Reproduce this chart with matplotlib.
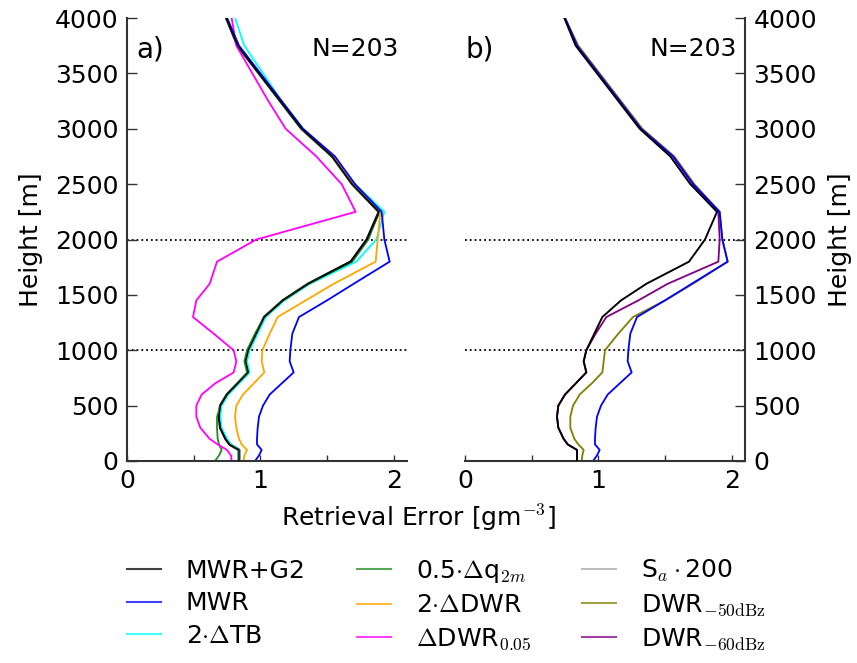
import matplotlib
matplotlib.use("Agg")
import matplotlib.pyplot as plt
from matplotlib.lines import Line2D
from matplotlib.ticker import FixedLocator

plt.rcParams['font.family'] = ['DejaVu Sans']
plt.rcParams['mathtext.fontset'] = 'cm'

heights = [0, 50, 100, 150, 200, 300, 400, 500, 600, 700, 800, 900, 1000, 1150,
           1300, 1450, 1600, 1800, 2000, 2250, 2500, 2750, 3000, 3250, 3500, 3750, 4000]

mwr_g2 = [0.84, 0.84, 0.84, 0.77, 0.74, 0.70, 0.69, 0.70, 0.75, 0.83, 0.91, 0.89, 0.91, 0.97,
          1.03, 1.17, 1.36, 1.68, 1.80, 1.89, 1.69, 1.54, 1.31, 1.15, 0.99, 0.83, 0.745]
mwr = [0.96, 0.99, 1.01, 0.975, 0.975, 0.98, 0.99, 1.02, 1.07, 1.16, 1.25, 1.22, 1.225, 1.24,
       1.29, 1.50, 1.70, 1.97, 1.93, 1.91, 1.71, 1.56, 1.32, 1.16, 1.00, 0.84, 0.75]
tb2 = [0.84, 0.84, 0.84, 0.78, 0.75, 0.71, 0.70, 0.71, 0.76, 0.84, 0.92, 0.90, 0.92, 0.98,
       1.04, 1.18, 1.37, 1.72, 1.87, 1.93, 1.71, 1.55, 1.32, 1.16, 1.02, 0.88, 0.81]
q2m = [0.66, 0.69, 0.71, 0.69, 0.68, 0.675, 0.675, 0.70, 0.75, 0.83, 0.90, 0.88, 0.90, 0.96,
       1.03, 1.17, 1.36, 1.69, 1.81, 1.89, 1.69, 1.54, 1.31, 1.15, 0.99, 0.83, 0.745]
dwr2 = [0.875, 0.88, 0.90, 0.86, 0.84, 0.82, 0.81, 0.82, 0.87, 0.95, 1.03, 1.01, 1.015, 1.07,
        1.13, 1.34, 1.55, 1.865, 1.88, 1.90, 1.70, 1.55, 1.315, 1.16, 1.00, 0.84, 0.75]
dwr005 = [0.785, 0.78, 0.75, 0.68, 0.62, 0.55, 0.52, 0.52, 0.56, 0.66, 0.80, 0.82, 0.80, 0.65,
          0.495, 0.52, 0.62, 0.675, 0.97, 1.715, 1.61, 1.42, 1.19, 1.06, 0.94, 0.82, 0.785]
sa200 = [0.84, 0.84, 0.84, 0.77, 0.74, 0.70, 0.69, 0.70, 0.75, 0.83, 0.91, 0.89, 0.91, 0.97,
         1.03, 1.17, 1.36, 1.68, 1.80, 1.89, 1.69, 1.54, 1.31, 1.15, 0.99, 0.83, 0.745]
dwr50 = [0.875, 0.88, 0.89, 0.85, 0.82, 0.79, 0.79, 0.81, 0.86, 0.95, 1.03, 1.04, 1.05, 1.15,
         1.26, 1.50, 1.71, 1.97, 1.93, 1.91, 1.72, 1.57, 1.33, 1.17, 1.01, 0.85, 0.75]
dwr60 = [0.84, 0.84, 0.84, 0.77, 0.74, 0.70, 0.69, 0.70, 0.75, 0.83, 0.91, 0.89, 0.91, 0.98,
         1.06, 1.30, 1.52, 1.90, 1.91, 1.90, 1.71, 1.56, 1.32, 1.16, 1.00, 0.84, 0.75]

labels = ['MWR+G2', 'MWR', '2$\\cdot\\Delta$TB',
          '0.5$\\cdot\\Delta$q$_{2m}$', '2$\\cdot\\Delta$DWR', '$\\Delta$DWR$_{0.05}$',
          'S$_a\\cdot$200', 'DWR$_{-50\\mathrm{dBz}}$', 'DWR$_{-60\\mathrm{dBz}}$']
colors = ['black', 'blue', 'cyan', 'forestgreen', 'orange', 'magenta',
          'darkgray', 'olive', 'purple']
n_label = 'N=203'

W, H = 857, 663
fig = plt.figure(figsize=(W / 100, H / 100), dpi=100)

def rect(x0, x1, ytop, ybot):
    return [x0 / W, 1 - ybot / H, (x1 - x0) / W, (ybot - ytop) / H]

axa = fig.add_axes(rect(127, 407, 18, 461))
axb = fig.add_axes(rect(465, 745, 18, 461))

lw = 1.3
axa.plot(mwr_g2, heights, color=colors[0], lw=2.0, zorder=2)
axa.plot(tb2, heights, color=colors[2], lw=lw, zorder=2)
axa.plot(q2m, heights, color=colors[3], lw=lw, zorder=2)
axa.plot(dwr2, heights, color=colors[4], lw=lw, zorder=2)
axa.plot(dwr005, heights, color=colors[5], lw=lw, zorder=2)
axa.plot(mwr, heights, color=colors[1], lw=lw, zorder=2)
axa.plot(mwr_g2, heights, color=colors[0], lw=1.0, zorder=3)

axb.plot(sa200, heights, color=colors[6], lw=lw, zorder=2)
axb.plot(dwr50, heights, color=colors[7], lw=lw, zorder=2)
axb.plot(dwr60, heights, color=colors[8], lw=lw, zorder=2)
axb.plot(mwr, heights, color=colors[1], lw=lw, zorder=2)
axb.plot(mwr_g2, heights, color=colors[0], lw=lw, zorder=3)

for ax in (axa, axb):
    ax.set_xlim(0, 2.1)
    ax.set_ylim(0, 4000)
    for yy in (1000, 2000):
        ax.axhline(yy, color='black', ls=':', lw=1.3, zorder=1)
    ax.xaxis.set_major_locator(FixedLocator([0, 1, 2]))
    ax.xaxis.set_minor_locator(FixedLocator([0.5, 1.5]))
    ax.set_xticklabels(['0', '1', '2'])
    ax.set_yticks(range(0, 4001, 500))
    ax.tick_params(axis='both', which='both', direction='in', labelsize=18,
                   width=1.0, color='#333333')
    ax.tick_params(axis='x', which='both', length=4, pad=6)
    ax.tick_params(axis='y', length=7, pad=6)
    ax.spines['top'].set_visible(False)
    for s in ax.spines.values():
        s.set_color('#333333')
        s.set_linewidth(1.5)
    ax.text(0.97, 0.93, n_label, transform=ax.transAxes, ha='right', va='center',
            fontsize=18)

axa.spines['right'].set_visible(False)
axa.set_ylabel('Height [m]', fontsize=18, labelpad=9)
axa.text(0.035, 0.93, 'a)', transform=axa.transAxes, ha='left', va='center', fontsize=20)

axb.spines['left'].set_visible(False)
axb.yaxis.tick_right()
axb.yaxis.set_label_position('right')
axb.set_ylabel('Height [m]', fontsize=18, labelpad=8)
axb.text(0.0, 0.93, 'b)', transform=axb.transAxes, ha='left', va='center', fontsize=20)

fig.text(418 / W, 1 - 518 / H, 'Retrieval Error [gm$^{-3}$]', ha='center', va='center',
         fontsize=18)

handles = [Line2D([], [], color=c, lw=1.5, alpha=0.75) for c in colors]
fig.legend(handles, labels, ncol=3, loc='upper left', bbox_to_anchor=(127 / W, 1 - 558 / H),
           frameon=False, fontsize=18, handlelength=1.35, handletextpad=1.0,
           columnspacing=2.05, labelspacing=0.34, borderaxespad=0, borderpad=0)

fig.savefig('out.png', dpi=100)
